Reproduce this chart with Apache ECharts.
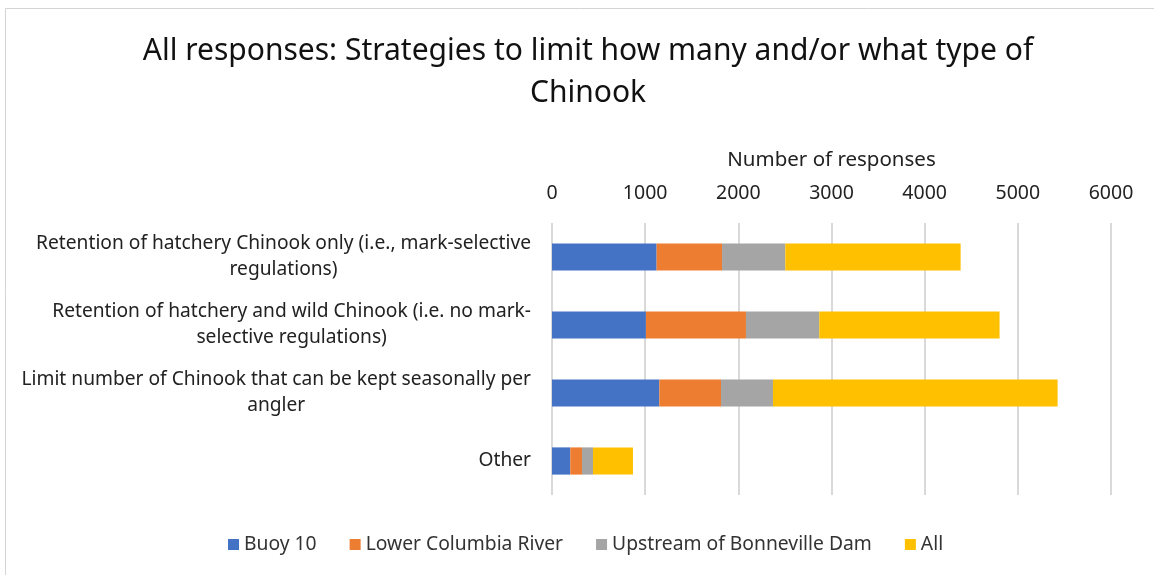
<!DOCTYPE html>
<html><head><meta charset="utf-8">
<script src="https://cdn.jsdelivr.net/npm/echarts@6/dist/echarts.min.js"></script>
<style>html,body{margin:0;padding:0;background:#fff}#c{width:1154px;height:575px}</style>
</head><body><div id="c"></div>
<script>
const categories = [
  "Retention of hatchery Chinook only (i.e., mark-selective\nregulations)",
  "Retention of hatchery and wild Chinook (i.e. no mark-\nselective regulations)",
  "Limit number of Chinook that can be kept seasonally per\nangler",
  "Other"
];
const seriesNames = ["Buoy 10", "Lower Columbia River", "Upstream of Bonneville Dam", "All"];
const buoy10 = [1123, 1008, 1152, 196];
const lowerColumbia = [702, 1074, 662, 126];
const upstreamBonneville = [679, 787, 558, 118];
const allResp = [1882, 1935, 3055, 429];
const xTicks = [0, 1000, 2000, 3000, 4000, 5000, 6000];
const colors = ["#4472C4", "#ED7D31", "#A5A5A5", "#FFC000"];
const font = "Noto Sans";
const dataSets = [buoy10, lowerColumbia, upstreamBonneville, allResp];

const chart = echarts.init(document.getElementById('c'));
chart.setOption({
  animation: false,
  color: colors,
  textStyle: {fontFamily: font},
  graphic: [{type: 'rect', left: 3, top: 6, shape: {width: 1170, height: 600},
    style: {fill: 'none', stroke: '#d4d4d4', lineWidth: 1}}],
  title: {
    text: "All responses: Strategies to limit how many and/or what type of\nChinook",
    left: 583, textAlign: 'center', top: 25,
    textStyle: {fontFamily: font, fontSize: 30, fontWeight: 'normal', color: '#111', lineHeight: 42}
  },
  legend: {
    bottom: 16, left: 223, itemWidth: 11, itemHeight: 11, itemGap: 33, icon: 'rect',
    textStyle: {fontFamily: font, fontSize: 19.3, color: '#333'},
    data: seriesNames
  },
  grid: {left: 552, right: 43, top: 223, bottom: 80},
  xAxis: {
    type: 'value', position: 'top', min: xTicks[0], max: xTicks[xTicks.length - 1], interval: 1000,
    name: "Number of responses", nameLocation: 'middle', nameGap: 52,
    nameTextStyle: {fontFamily: font, fontSize: 20.5, color: '#222'},
    axisLine: {show: false}, axisTick: {show: false},
    axisLabel: {margin: 20, fontFamily: font, fontSize: 19.5, color: '#222', formatter: v => String(v)},
    splitLine: {lineStyle: {color: '#d9d9d9', width: 2}}
  },
  yAxis: {
    type: 'category', inverse: true, data: categories,
    axisLine: {show: false}, axisTick: {show: false},
    axisLabel: {
      margin: 21, align: 'right',
      formatter: v => v.split('\n').map(l => '{a|' + l + '}').join('\n'),
      rich: {a: {fontFamily: font, fontSize: 19.2, color: '#222', align: 'center', lineHeight: 26}}
    }
  },
  series: dataSets.map((d, i) => ({
    name: seriesNames[i], type: 'bar', stack: 'total', data: d,
    barCategoryGap: '60%',
    itemStyle: {color: colors[i]}
  }))
});
</script></body></html>
